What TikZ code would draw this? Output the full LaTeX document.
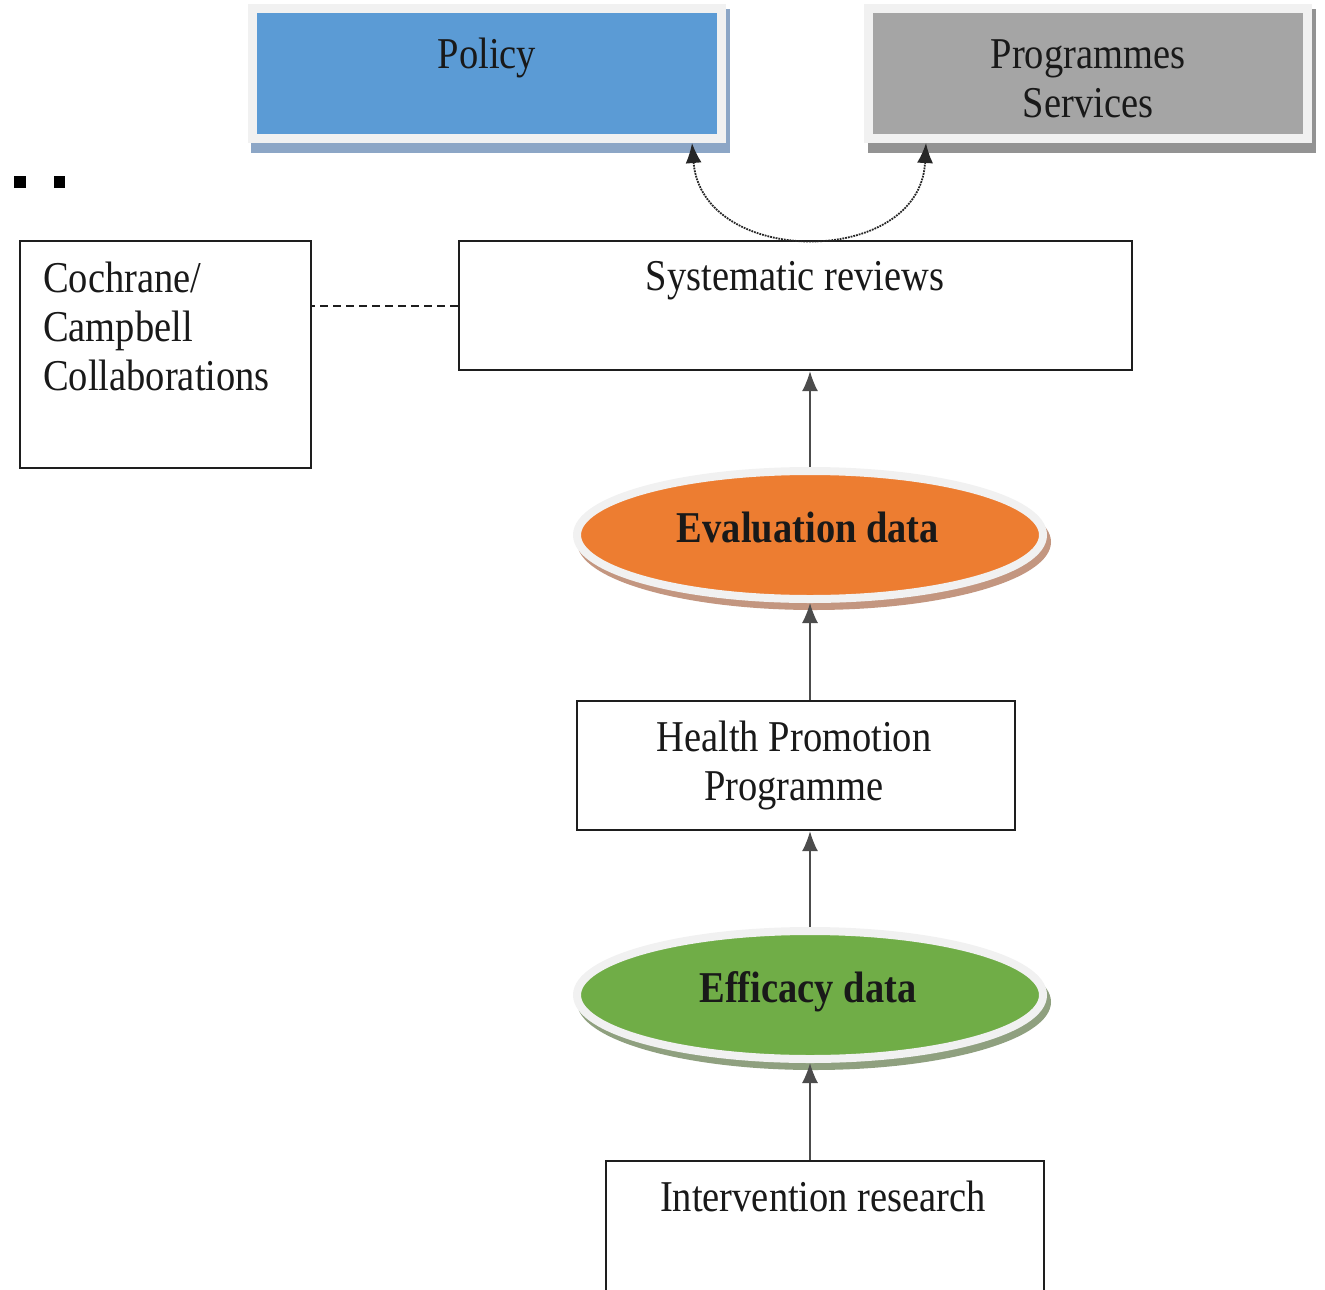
\documentclass[tikz,border=0pt]{standalone}
\usepackage{fontspec}
\setmainfont{Liberation Serif}[FakeStretch=0.875]
\usetikzlibrary{arrows.meta,shapes.geometric}

\definecolor{policyblue}{HTML}{5B9BD5}
\definecolor{policyshade}{HTML}{8CA6C6}
\definecolor{progrey}{HTML}{A5A5A5}
\definecolor{proshade}{HTML}{939393}
\definecolor{rimgrey}{HTML}{F1F1F1}
\definecolor{evalorange}{HTML}{ED7D31}
\definecolor{evalshade}{HTML}{C39680}
\definecolor{effgreen}{HTML}{70AD47}
\definecolor{effshade}{HTML}{8FA07F}
\definecolor{edgeblack}{HTML}{1E1E1E}

\tikzset{
  txt/.style={font=\fontsize{44}{49}\selectfont, text=black!90, anchor=base, inner sep=0pt, align=center},
  boldtxt/.style={txt, font=\fontsize{44}{49}\selectfont\bfseries},
  plainbox/.style={rectangle, draw=edgeblack, line width=2.4pt, fill=white, inner sep=0pt},
  topbox/.style={rectangle, draw=rimgrey, line width=9pt, inner sep=0pt,
                 minimum height=130pt},
  dataoval/.style={ellipse, draw=rimgrey, line width=8pt, inner sep=0pt,
                   minimum width=466pt, minimum height=128pt},
  flow/.style={draw=black!70, line width=1.4pt, -{Latex[length=20pt,width=16pt]}},
  linkdash/.style={draw=edgeblack, line width=2pt, dash pattern=on 8pt off 5pt},
  linkdot/.style={draw=black!85, line width=1.8pt, densely dotted,
                  {Latex[length=20pt,width=16pt]}-{Latex[length=20pt,width=16pt]}}
}

\begin{document}
\begin{tikzpicture}[x=1pt,y=-1pt]
\useasboundingbox (0,0) rectangle (1325,1290);

% small marks at the left margin
\fill[black] (14,176) rectangle (26,188);
\fill[black] (54,176) rectangle (65,188);

% drop shadows of the two top boxes
\fill[policyshade] (251,9) rectangle (730,153);
\fill[proshade] (868,9) rectangle (1316,153);

% top boxes
\node[topbox, fill=policyblue, minimum width=469pt] (policy) at (487,73.5) {};
\node[txt] (policytxt) at (487,68) {Policy};
\node[topbox, fill=progrey, minimum width=439pt] (prog) at (1088,73.5) {};
\node[txt] (progtxt) at (1088,117) {Programmes\\Services};

% reviews and collaborations
\node[plainbox, minimum width=673pt, minimum height=129pt] (sys) at (795.5,305.5) {};
\node[txt] (systxt) at (795,290) {Systematic reviews};
\node[plainbox, minimum width=291pt, minimum height=227pt] (coch) at (165.5,354.5) {};
\node[txt, align=left, anchor=base west] (cochtxt) at (43,390) {Cochrane/\\Campbell\\Collaborations};

% evaluation data
\fill[evalshade] (814,542) ellipse [x radius=237pt, y radius=68pt];
\node[dataoval, fill=evalorange] (eval) at (810,535) {};
\node[boldtxt] (evaltxt) at (808,542) {Evaluation data};

% programme box
\node[plainbox, minimum width=438pt, minimum height=129pt] (hpp) at (796,765.5) {};
\node[txt] (hpptxt) at (794,800) {Health Promotion\\Programme};

% efficacy data
\fill[effshade] (814,1002) ellipse [x radius=237pt, y radius=68pt];
\node[dataoval, fill=effgreen] (eff) at (810,995) {};
\node[boldtxt] (efftxt) at (808,1002) {Efficacy data};

% intervention research
\node[plainbox, minimum width=438pt, minimum height=200pt] (inter) at (825,1261) {};
\node[txt] (intertxt) at (823,1211) {Intervention research};

% connectors
\draw[flow] (eval.north) -- (eval.north |- sys.south);
\draw[flow] (hpp.north -| eval.north) -- (eval.south);
\draw[flow] (eff.north) -- (eff.north |- hpp.south);
\draw[flow] (inter.north -| eff.north) -- (eff.south);
\draw[linkdash] (sys.west) -- (sys.west -| coch.east);
\draw[linkdot] ([xshift=-34pt]policy.south east)
  .. controls (702,268) and (920,268) .. ([xshift=62pt]prog.south west);
\end{tikzpicture}
\end{document}
